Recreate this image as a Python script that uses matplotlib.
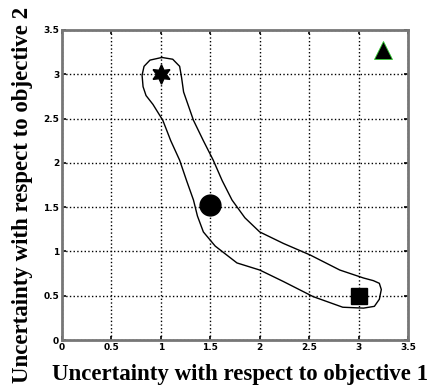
import matplotlib.pyplot as plt

# marker positions (objective 1, objective 2)
star = (1.0, 3.0)
circle = (1.5, 1.52)
square = (3.0, 0.5)
triangle = (3.25, 3.27)

# outline of the enclosing region, traced clockwise from the top
outline_x = [1.01, 1.12, 1.19, 1.21, 1.23, 1.28, 1.33, 1.43, 1.53, 1.62, 1.72,
             1.85, 2.0, 2.24, 2.51, 2.81, 3.05, 3.15, 3.21, 3.23, 3.21, 3.16,
             3.05, 2.84, 2.54, 2.24, 2.0, 1.77, 1.55, 1.43, 1.37, 1.33, 1.26,
             1.19, 1.10, 1.02, 0.92, 0.85, 0.82, 0.81, 0.83, 0.89, 1.01]
outline_y = [3.19, 3.17, 3.09, 2.96, 2.80, 2.64, 2.48, 2.25, 2.03, 1.80, 1.58,
             1.38, 1.22, 1.09, 0.96, 0.79, 0.70, 0.67, 0.64, 0.57, 0.46, 0.38,
             0.36, 0.37, 0.49, 0.66, 0.79, 0.87, 1.06, 1.22, 1.40, 1.58, 1.80,
             2.03, 2.25, 2.48, 2.66, 2.76, 2.86, 2.99, 3.09, 3.16, 3.19]

ticks = [0, 0.5, 1, 1.5, 2, 2.5, 3, 3.5]
tick_labels = ['0', '0.5', '1', '1.5', '2', '2.5', '3', '3.5']

fig = plt.figure(figsize=(4.37, 3.92), dpi=100)
ax = fig.add_axes([62/437, 52/392, 346/437, 310/392])

ax.plot(outline_x, outline_y, color='black', lw=1.0)
ax.plot(*star, marker=(6, 1, 0), color='black', ms=14, ls='none')
ax.plot(*circle, marker='o', color='black', ms=15, ls='none')
ax.plot(*square, marker='s', color='black', ms=12, ls='none')
ax.plot(*triangle, marker='^', color='black', mec='#33cc33', mew=0.6, ms=13, ls='none')

ax.set_xlim(0, 3.5)
ax.set_ylim(0, 3.5)
ax.set_xticks(ticks)
ax.set_yticks(ticks)
ax.set_xticklabels(tick_labels, fontsize=6.5, fontweight='bold')
ax.set_yticklabels(tick_labels, fontsize=6.5, fontweight='bold')
ax.tick_params(direction='in', length=3, width=1.2, top=True, right=True, pad=2)
ax.grid(True, color='black', ls=':', lw=1.0)
for s in ax.spines.values():
    s.set_color('#777777')
    s.set_linewidth(2)

ax.set_xlabel('Uncertainty with respect to objective 1', fontsize=16.5,
              fontweight='bold', family='Liberation Serif')
ax.set_ylabel('Uncertainty with respect to objective 2', fontsize=16.5,
              fontweight='bold', family='Liberation Serif')
ax.xaxis.set_label_coords(0.514, -0.077)
ax.yaxis.set_label_coords(-0.084, 0.468)

plt.savefig('out.png', dpi=100)
